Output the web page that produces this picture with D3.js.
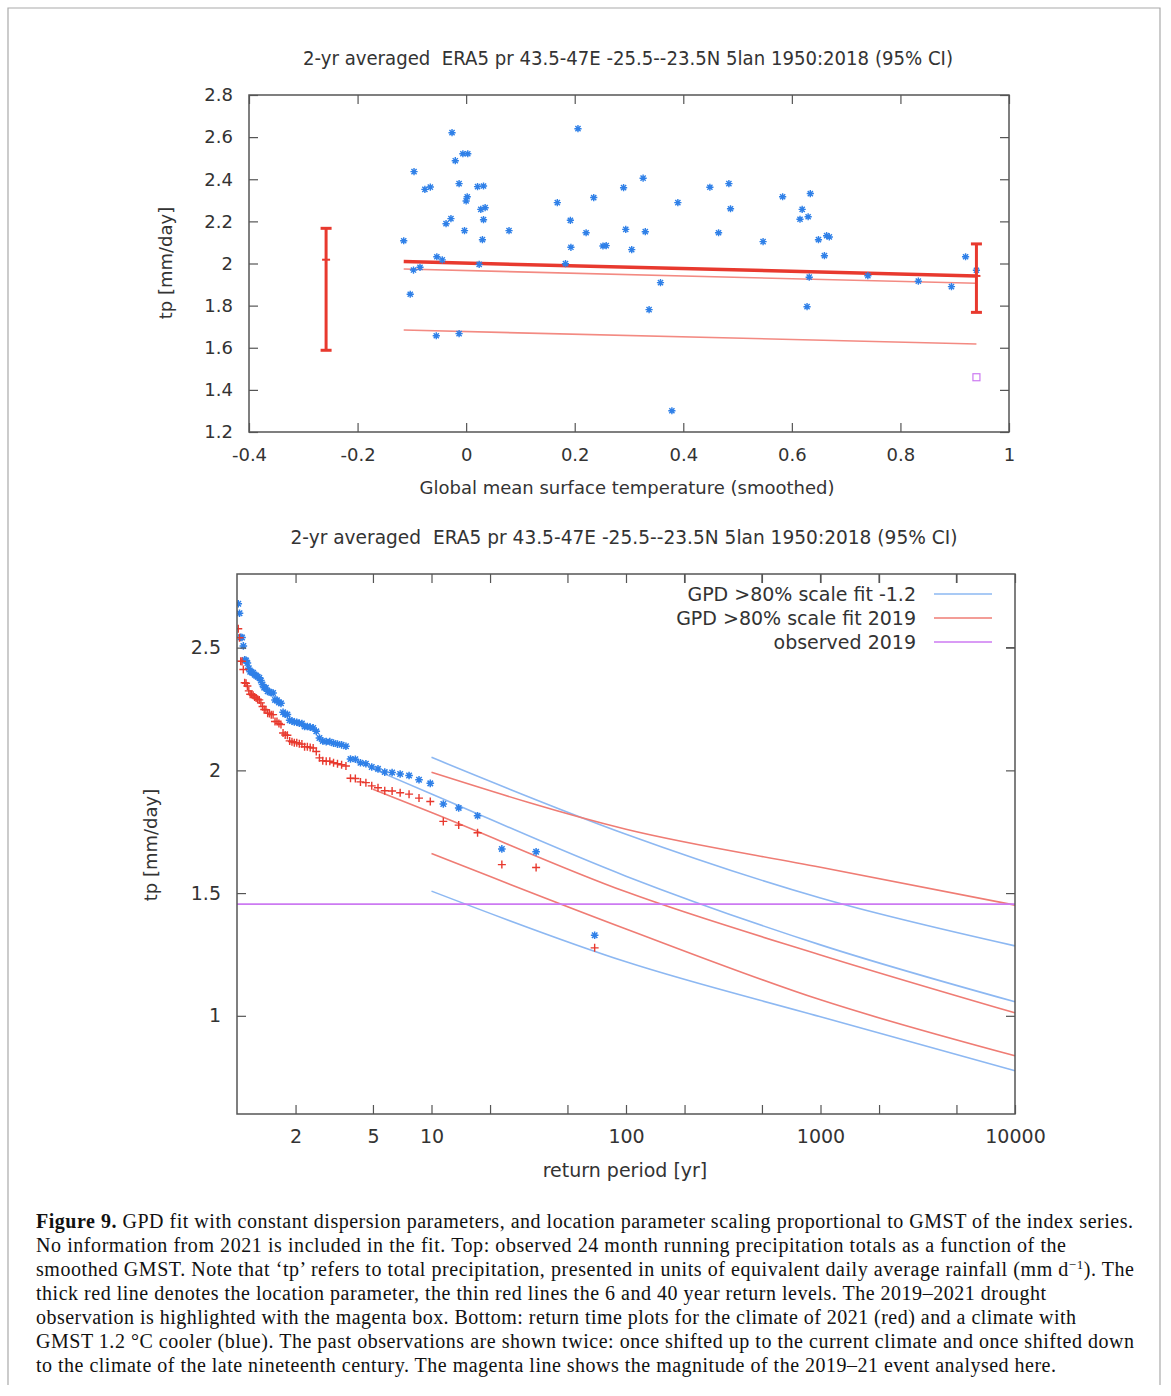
<!DOCTYPE html>
<html>
<head>
<meta charset='UTF-8'>
<title>Figure 9</title>
<script src='https://d3js.org/d3.v7.min.js'></script>
<style>
  body { margin: 0; background: #fff; }
  svg text { font-family: 'DejaVu Sans', sans-serif; fill: #333; }
  svg text.cap { font-family: 'Liberation Serif', 'DejaVu Serif', serif; fill: #111; font-size: 20px; }
</style>
</head>
<body>
<div id='chart'></div>
<script>
// ---- top panel: 2-yr averaged precipitation vs smoothed GMST ----
var gmst = [-0.115, -0.096, -0.103, -0.097, -0.085, -0.076, -0.066, -0.054, -0.044, -0.055,
            -0.037, -0.028, -0.026, -0.020, -0.013, -0.013, -0.006, 0.003, -0.003, 0.002,
            0.000, 0.021, 0.032, 0.024, 0.027, 0.035, 0.032, 0.030, 0.079, 0.168,
            0.183, 0.192, 0.193, 0.206, 0.221, 0.235, 0.252, 0.258, 0.290, 0.294,
            0.305, 0.326, 0.330, 0.337, 0.358, 0.379, 0.390, 0.449, 0.465, 0.484,
            0.487, 0.547, 0.583, 0.619, 0.615, 0.630, 0.634, 0.632, 0.628, 0.649,
            0.660, 0.664, 0.669, 0.740, 0.833, 0.894, 0.920, 0.940];
var tp = [2.108, 2.436, 1.854, 1.969, 1.982, 2.352, 2.363, 2.032, 2.017, 1.657,
          2.189, 2.213, 2.621, 2.488, 2.379, 1.667, 2.521, 2.521, 2.156, 2.317,
          2.297, 2.365, 2.368, 1.996, 2.257, 2.265, 2.208, 2.113, 2.156, 2.289,
          1.999, 2.205, 2.077, 2.640, 2.146, 2.313, 2.083, 2.085, 2.360, 2.162,
          2.066, 2.405, 2.151, 1.781, 1.909, 1.301, 2.289, 2.362, 2.146, 2.379,
          2.260, 2.104, 2.317, 2.257, 2.210, 2.222, 2.332, 1.935, 1.795, 2.113,
          2.037, 2.132, 2.126, 1.942, 1.916, 1.890, 2.032, 1.968];
var fitGmst = [-0.115, 0.94];
var fitMu = [2.009, 1.941];      // location parameter (thick)
var fitRl6 = [1.974, 1.906];     // 6 yr return level
var fitRl40 = [1.684, 1.618];    // 40 yr return level
var ciGmst = [-0.258, 0.94];
var ciLow = [1.588, 1.768];
var ciMid = [2.018, 1.941];
var ciHigh = [2.167, 2.093];
var obsGmst = 0.94;
var obsTp = 1.46;

// ---- bottom panel: return periods ----
var retPeriod = [69, 34.5, 23, 17.25, 13.8, 11.5, 9.857, 8.625, 7.667, 6.9,
                 6.273, 5.75, 5.308, 4.929, 4.6, 4.3125, 4.059, 3.833, 3.632, 3.45,
                 3.286, 3.136, 3, 2.875, 2.76, 2.654, 2.556, 2.464, 2.379, 2.3,
                 2.226, 2.156, 2.091, 2.029, 1.971, 1.917, 1.865, 1.816, 1.769, 1.725,
                 1.683, 1.643, 1.605, 1.568, 1.533, 1.5, 1.468, 1.4375, 1.408, 1.38,
                 1.353, 1.327, 1.302, 1.278, 1.2545, 1.232, 1.2105, 1.19, 1.169, 1.15,
                 1.131, 1.113, 1.095, 1.078, 1.0615, 1.045, 1.03, 1.015];
var tpCool = [1.328, 1.668, 1.680, 1.815, 1.847, 1.863, 1.947, 1.962, 1.979, 1.985,
              1.991, 1.993, 2.006, 2.014, 2.027, 2.031, 2.045, 2.046, 2.098, 2.104,
              2.107, 2.111, 2.117, 2.117, 2.120, 2.132, 2.159, 2.173, 2.176, 2.179,
              2.179, 2.191, 2.192, 2.196, 2.197, 2.201, 2.204, 2.228, 2.229, 2.237,
              2.273, 2.277, 2.286, 2.287, 2.315, 2.316, 2.320, 2.322, 2.336, 2.337,
              2.350, 2.366, 2.377, 2.381, 2.386, 2.390, 2.398, 2.400, 2.402, 2.416,
              2.437, 2.448, 2.450, 2.507, 2.541, 2.542, 2.640, 2.679];
var tpNow = [1.277, 1.604, 1.616, 1.746, 1.777, 1.792, 1.873, 1.887, 1.903, 1.909,
             1.916, 1.917, 1.929, 1.937, 1.950, 1.953, 1.967, 1.968, 2.018, 2.023,
             2.027, 2.031, 2.037, 2.037, 2.039, 2.051, 2.077, 2.091, 2.093, 2.096,
             2.096, 2.107, 2.108, 2.113, 2.113, 2.117, 2.120, 2.143, 2.144, 2.152,
             2.187, 2.191, 2.199, 2.199, 2.227, 2.227, 2.232, 2.233, 2.247, 2.248,
             2.260, 2.275, 2.287, 2.290, 2.295, 2.299, 2.306, 2.309, 2.310, 2.324,
             2.344, 2.355, 2.357, 2.411, 2.444, 2.445, 2.540, 2.577];
var fitT = [5, 10, 100, 1000, 10000];
var coolMid = [2.006, 1.904, 1.569, 1.289, 1.057];
var coolHi = [null, 2.053, 1.740, 1.480, 1.285];
var coolLo = [null, 1.508, 1.220, 0.996, 0.776];
var nowMid = [1.923, 1.828, 1.505, 1.248, 1.012];
var nowHi = [null, 1.992, 1.760, 1.605, 1.451];
var nowLo = [null, 1.661, 1.354, 1.065, 0.837];
var observed2019 = 1.455;
var legendNames = ['GPD >80% scale fit -1.2', 'GPD >80% scale fit 2019', 'observed 2019'];
var retTicks = [2, 5, 10, 20, 50, 100, 200, 500, 1000, 2000, 5000];
var retLabels = [2, 5, 10, 100, 1000, 10000];

var caption = [
  ['GPD fit with constant dispersion parameters, and location parameter scaling proportional to GMST of the index series.', 1133],
  ['No information from 2021 is included in the fit. Top: observed 24 month running precipitation totals as a function of the', 1066],
  ['smoothed GMST. Note that \u2018tp\u2019 refers to total precipitation, presented in units of equivalent daily average rainfall (mm d', 1134],
  ['thick red line denotes the location parameter, the thin red lines the 6 and 40 year return levels. The 2019\u20132021 drought', 1046],
  ['observation is highlighted with the magenta box. Bottom: return time plots for the climate of 2021 (red) and a climate with', 1076],
  ['GMST 1.2 \u00b0C cooler (blue). The past observations are shown twice: once shifted up to the current climate and once shifted down', 1134],
  ['to the climate of the late nineteenth century. The magenta line shows the magnitude of the 2019\u201321 event analysed here.', 1056]
];

var blue = '#2f80e8', red = '#e8392e', lblue = '#8db8f2', lred = '#ef7c74', magenta = '#cc7af2';
var axisColor = '#555';
var titleText = '2-yr averaged  ERA5 pr 43.5-47E -25.5--23.5N 5lan 1950:2018 (95% CI)';

var svg = d3.select('#chart').append('svg')
    .attr('width', 1171)
    .attr('height', 1396);

// page frame
svg.append('path')
   .attr('d', 'M8,1385 V8 H1160 V1385')
   .attr('fill', 'none')
   .attr('stroke', '#aaa')
   .attr('stroke-width', 1.2);

function starPath(x, y, r) {
    var k = r * 0.72;
    return 'M' + (x - r) + ',' + y + 'H' + (x + r) + 'M' + x + ',' + (y - r) + 'V' + (y + r) +
           'M' + (x - k) + ',' + (y - k) + 'L' + (x + k) + ',' + (y + k) +
           'M' + (x - k) + ',' + (y + k) + 'L' + (x + k) + ',' + (y - k);
}
function plusPath(x, y, r) {
    return 'M' + (x - r) + ',' + y + 'H' + (x + r) + 'M' + x + ',' + (y - r) + 'V' + (y + r);
}
// gnuplot style numbers: plain hyphen for negatives
function num(d) {
    return d3.format('~g')(+(+d).toFixed(1)).replace('\u2212', '-');
}

function frameAxes(g, x, y, xTicks, xFmt, yTicks, yFmt, fs) {
    var w = x.range()[1] - x.range()[0];
    var h = y.range()[0] - y.range()[1];
    var x0 = x.range()[0], y1 = y.range()[1], y0 = y.range()[0], x1 = x.range()[1];
    var ax = [
        [d3.axisBottom(x).tickValues(xTicks).tickFormat(xFmt), 0, y0],
        [d3.axisTop(x).tickValues(xTicks).tickFormat(''), 0, y1],
        [d3.axisLeft(y).tickValues(yTicks).tickFormat(yFmt), x0, 0],
        [d3.axisRight(y).tickValues(yTicks).tickFormat(''), x1, 0]
    ];
    ax.forEach(function (a) {
        var s = g.append('g')
            .attr('transform', 'translate(' + a[1] + ',' + a[2] + ')')
            .call(a[0].tickSizeInner(-9).tickSizeOuter(0).tickPadding(16));
        s.select('.domain').remove();
        s.selectAll('line').attr('stroke', axisColor).attr('stroke-width', 1.2);
        s.selectAll('text').style('font-size', fs + 'px')
         .style('font-family', "'DejaVu Sans', sans-serif").attr('fill', '#333');
    });
    g.append('rect')
     .attr('x', x0).attr('y', y1).attr('width', w).attr('height', h)
     .attr('fill', 'none').attr('stroke', axisColor).attr('stroke-width', 1.5);
}

// ================= TOP PANEL =================
var xT = d3.scaleLinear().domain([-0.4, 1]).range([249, 1009]);
var yT = d3.scaleLinear().domain([1.2, 2.8]).range([432, 95]);
var topG = svg.append('g');

svg.append('text')
   .attr('x', 628).attr('y', 65)
   .attr('text-anchor', 'middle')
   .attr('textLength', 650).attr('lengthAdjust', 'spacingAndGlyphs')
   .style('font-size', '19px')
   .style('white-space', 'pre')
   .text(titleText);

// thin return level lines
[fitRl6, fitRl40].forEach(function (arr) {
    topG.append('path')
       .datum(fitGmst.map(function (g, i) { return [g, arr[i]]; }))
       .attr('d', d3.line().x(function (d) { return xT(d[0]); }).y(function (d) { return yT(d[1]); }))
       .attr('fill', 'none').attr('stroke', '#f38a82').attr('stroke-width', 1.6);
});
topG.append('path')
   .datum(fitGmst.map(function (g, i) { return [g, fitMu[i]]; }))
   .attr('d', d3.line().x(function (d) { return xT(d[0]); }).y(function (d) { return yT(d[1]); }))
   .attr('fill', 'none').attr('stroke', red).attr('stroke-width', 3.5);

// observations
topG.selectAll('path.obs')
   .data(gmst.map(function (g, i) { return [g, tp[i]]; }))
   .enter().append('path')
   .attr('class', 'obs')
   .attr('d', function (d) { return starPath(xT(d[0]), yT(d[1]), 3.6); })
   .attr('stroke', blue).attr('stroke-width', 1.4).attr('fill', 'none');

// confidence interval bars
ciGmst.forEach(function (g, i) {
    var cx = xT(g);
    topG.append('line')
       .attr('x1', cx).attr('x2', cx).attr('y1', yT(ciLow[i])).attr('y2', yT(ciHigh[i]))
       .attr('stroke', red).attr('stroke-width', 3);
    [ciLow[i], ciHigh[i]].forEach(function (v) {
        topG.append('line')
           .attr('x1', cx - 5.5).attr('x2', cx + 5.5).attr('y1', yT(v)).attr('y2', yT(v))
           .attr('stroke', red).attr('stroke-width', 3);
    });
    topG.append('line')
       .attr('x1', cx - 4).attr('x2', cx + 4).attr('y1', yT(ciMid[i])).attr('y2', yT(ciMid[i]))
       .attr('stroke', red).attr('stroke-width', 2);
});

// 2019 observation box
topG.append('rect')
   .attr('x', xT(obsGmst) - 3.5).attr('y', yT(obsTp) - 3.5)
   .attr('width', 7).attr('height', 7)
   .attr('fill', 'none').attr('stroke', magenta).attr('stroke-width', 1.2);

frameAxes(topG, xT, yT, d3.range(-0.4, 1.01, 0.2), num, d3.range(1.2, 2.81, 0.2), num, 18);

svg.append('text')
   .attr('transform', 'translate(172,263) rotate(-90)')
   .attr('text-anchor', 'middle')
   .style('font-size', '18px')
   .text('tp [mm/day]');
svg.append('text')
   .attr('x', 627).attr('y', 494)
   .attr('text-anchor', 'middle')
   .style('font-size', '18px')
   .text('Global mean surface temperature (smoothed)');

// ================= BOTTOM PANEL =================
var xB = d3.scaleLog().domain([1, 10000]).range([237, 1015]);
var yB = d3.scaleLinear().domain([0.6, 2.8]).range([1114, 574]);
var bot = svg.append('g');

svg.append('text')
   .attr('x', 624).attr('y', 544)
   .attr('text-anchor', 'middle')
   .attr('textLength', 667).attr('lengthAdjust', 'spacingAndGlyphs')
   .style('font-size', '19px')
   .style('white-space', 'pre')
   .text(titleText);

svg.append('clipPath').attr('id', 'clipB').append('rect')
    .attr('x', 237).attr('y', 574).attr('width', 778).attr('height', 540);

var fitLine = d3.line()
    .defined(function (d) { return d[1] !== null; })
    .x(function (d) { return xB(d[0]); })
    .y(function (d) { return yB(d[1]); })
    .curve(d3.curveMonotoneX);

[[coolHi, lblue], [coolMid, lblue], [coolLo, lblue], [nowHi, lred], [nowMid, lred], [nowLo, lred]]
  .forEach(function (s) {
    bot.append('path')
       .datum(fitT.map(function (t, i) { return [t, s[0][i]]; }))
       .attr('d', fitLine)
       .attr('fill', 'none').attr('stroke', s[1]).attr('stroke-width', 1.6);
  });

bot.append('line')
   .attr('x1', xB(1)).attr('x2', xB(10000))
   .attr('y1', yB(observed2019)).attr('y2', yB(observed2019))
   .attr('stroke', magenta).attr('stroke-width', 1.6);

bot.selectAll('path.cool')
   .data(retPeriod.map(function (t, i) { return [t, tpCool[i]]; }))
   .enter().append('path')
   .attr('class', 'cool')
   .attr('d', function (d) { return starPath(xB(d[0]), yB(d[1]), 3.8); })
   .attr('stroke', blue).attr('stroke-width', 1.5).attr('fill', 'none')
   .attr('clip-path', 'url(#clipB)');

bot.selectAll('path.now')
   .data(retPeriod.map(function (t, i) { return [t, tpNow[i]]; }))
   .enter().append('path')
   .attr('class', 'now')
   .attr('d', function (d) { return plusPath(xB(d[0]), yB(d[1]), 4); })
   .attr('stroke', red).attr('stroke-width', 1.4).attr('fill', 'none')
   .attr('clip-path', 'url(#clipB)');

frameAxes(bot, xB, yB, retTicks.concat([10000]),
          function (d) { return retLabels.indexOf(d) >= 0 ? d : ''; },
          [1, 1.5, 2, 2.5], function (d) { return d3.format('~g')(d); }, 19);

// legend
var leg = bot.append('g');
legendNames.forEach(function (name, i) {
    var yy = 594 + i * 24;
    leg.append('rect')
       .attr('x', 676).attr('y', yy - 11).attr('width', 324).attr('height', 22)
       .attr('fill', '#fff');
    leg.append('text')
       .attr('x', 916).attr('y', yy + 7)
       .attr('text-anchor', 'end')
       .style('font-size', '19px')
       .text(name);
    leg.append('line')
       .attr('x1', 934).attr('x2', 992).attr('y1', yy).attr('y2', yy)
       .attr('stroke', [lblue, lred, magenta][i]).attr('stroke-width', 1.6);
});
// redraw top ticks over the legend backdrop
bot.selectAll('.tickTopRedraw')
   .data(retTicks.filter(function (t) { return xB(t) > 670; }))
   .enter().append('line')
   .attr('x1', function (d) { return xB(d); }).attr('x2', function (d) { return xB(d); })
   .attr('y1', 574).attr('y2', 583)
   .attr('stroke', axisColor).attr('stroke-width', 1.2);
bot.append('line')
   .attr('x1', 1006).attr('x2', 1015).attr('y1', yB(2.5)).attr('y2', yB(2.5))
   .attr('stroke', axisColor).attr('stroke-width', 1.2);

svg.append('text')
   .attr('transform', 'translate(157,845) rotate(-90)')
   .attr('text-anchor', 'middle')
   .style('font-size', '18px')
   .text('tp [mm/day]');
svg.append('text')
   .attr('x', 625).attr('y', 1177)
   .attr('text-anchor', 'middle')
   .style('font-size', '19px')
   .text('return period [yr]');

// ================= CAPTION =================
caption.forEach(function (c, i) {
    var t = svg.append('text')
        .attr('class', 'cap')
        .attr('x', 36).attr('y', 1228 + i * 24)
        .attr('textLength', c[1] - 36).attr('lengthAdjust', 'spacing');
    if (i === 0) {
        t.append('tspan').style('font-weight', 'bold').text('Figure 9.');
        t.append('tspan').text(' ' + c[0]);
    } else if (i === 2) {
        t.append('tspan').text(c[0]);
        t.append('tspan').attr('baseline-shift', 'super').style('font-size', '13px').text('\u22121');
        t.append('tspan').text('). The');
    } else {
        t.text(c[0]);
    }
});
</script>
</body>
</html>
